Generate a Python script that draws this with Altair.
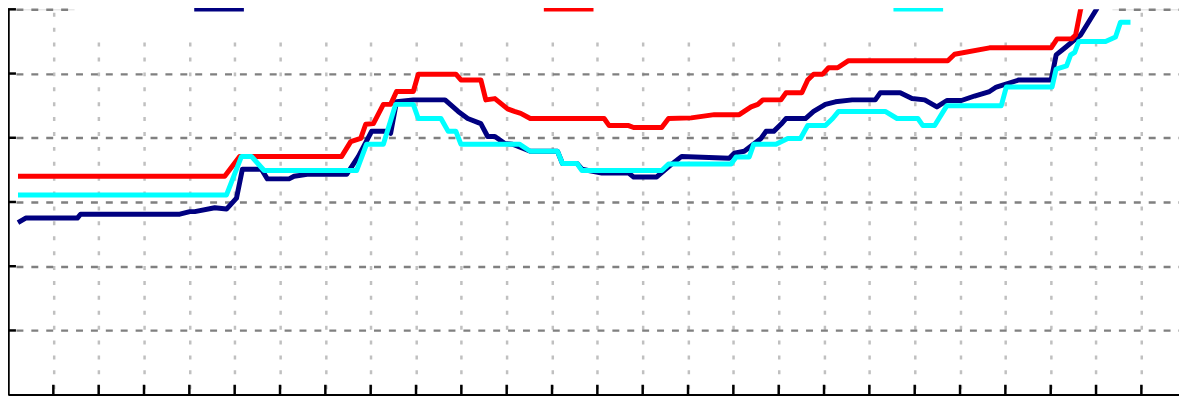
import altair as alt
import pandas as pd

series_names = ["Series 1", "Series 2", "Series 3"]
series_colors = ["#000080", "#ff0000", "#00ffff"]

navy_x = [0.22, 0.39, 1.53, 1.60, 3.79, 4.01, 4.12, 4.56, 4.82, 5.04, 5.17, 5.59, 5.72, 6.20, 6.31, 6.60,
          7.47, 7.73, 8.02, 8.39, 8.44, 8.57, 8.94, 9.64, 9.93, 10.14, 10.43, 10.58, 10.74, 10.96, 11.13,
          11.52, 12.12, 12.23, 12.55, 12.66, 13.10, 13.69, 13.80, 14.31, 14.64, 14.86, 15.91, 16.02, 16.24,
          16.61, 16.72, 16.89, 17.05, 17.16, 17.59, 17.77, 18.03, 18.25, 18.62, 19.13, 19.24, 19.68, 19.94,
          20.22, 20.49, 20.71, 21.03, 21.32, 21.65, 21.80, 22.30, 23.01, 23.12, 23.33, 23.55, 23.66, 24.01, 24.12]
navy_y = [2.68, 2.75, 2.75, 2.81, 2.81, 2.85, 2.85, 2.91, 2.89, 3.06, 3.51, 3.51, 3.36, 3.36, 3.40, 3.43,
          3.43, 3.71, 4.10, 4.10, 4.07, 4.56, 4.59, 4.59, 4.41, 4.30, 4.22, 4.02, 4.02, 3.91, 3.90,
          3.79, 3.79, 3.60, 3.60, 3.51, 3.45, 3.45, 3.39, 3.39, 3.59, 3.71, 3.68, 3.76, 3.79,
          3.99, 4.10, 4.10, 4.21, 4.30, 4.30, 4.41, 4.52, 4.56, 4.59, 4.59, 4.70, 4.70, 4.61,
          4.59, 4.48, 4.58, 4.58, 4.65, 4.72, 4.79, 4.90, 4.90, 5.29, 5.41, 5.54, 5.60, 6.00, 6.19]

red_x = [0.22, 4.78, 5.11, 7.36, 7.56, 7.78, 7.89, 8.06, 8.28, 8.44, 8.57, 8.94, 9.05, 9.88, 9.99, 10.43,
         10.54, 10.74, 11.02, 11.17, 11.31, 11.52, 13.15, 13.26, 13.69, 13.80, 14.42, 14.57, 15.07, 15.58,
         16.13, 16.39, 16.54, 16.65, 17.05, 17.16, 17.51, 17.64, 17.77, 17.97, 18.10, 18.30, 18.54, 20.73,
         20.88, 21.65, 23.01, 23.14, 23.46, 23.55, 23.66, 23.77]
red_y = [3.40, 3.40, 3.71, 3.71, 3.94, 3.99, 4.21, 4.22, 4.52, 4.52, 4.72, 4.72, 4.99, 4.99, 4.90, 4.90,
         4.59, 4.61, 4.45, 4.41, 4.38, 4.30, 4.30, 4.19, 4.19, 4.16, 4.16, 4.30, 4.31, 4.36,
         4.36, 4.48, 4.52, 4.59, 4.59, 4.70, 4.70, 4.90, 4.99, 4.99, 5.09, 5.09, 5.20, 5.20,
         5.30, 5.40, 5.40, 5.54, 5.54, 5.60, 6.00, 6.19]

cyan_x = [0.22, 4.82, 5.15, 5.37, 5.65, 7.69, 7.91, 8.28, 8.55, 8.94, 9.05, 9.55, 9.71, 9.88, 9.99, 11.28,
          11.52, 12.12, 12.23, 12.55, 12.66, 14.42, 14.57, 15.95, 16.06, 16.35, 16.45, 16.94, 17.20, 17.48,
          17.64, 18.03, 18.19, 18.32, 19.35, 19.61, 20.07, 20.18, 20.44, 20.71, 21.91, 22.02, 23.03, 23.12,
          23.35, 23.44, 23.53, 23.62, 24.21, 24.43, 24.54, 24.76]
cyan_y = [3.11, 3.11, 3.71, 3.71, 3.49, 3.49, 3.90, 3.90, 4.52, 4.52, 4.30, 4.30, 4.10, 4.10, 3.90, 3.90,
          3.79, 3.79, 3.60, 3.60, 3.49, 3.49, 3.59, 3.59, 3.70, 3.70, 3.90, 3.90, 3.99, 3.99,
          4.19, 4.19, 4.30, 4.41, 4.41, 4.30, 4.30, 4.19, 4.19, 4.50, 4.50, 4.79, 4.79, 5.07,
          5.12, 5.29, 5.33, 5.50, 5.50, 5.57, 5.80, 5.80]

x_ticks = list(range(1, 26))
y_ticks = [1, 2, 3, 4, 5, 6]

W = 1179
H = 388
X_MAX = 25.83
Y_MAX = 6

rows = []
for name, xs, ys in zip(series_names, [navy_x, red_x, cyan_x], [navy_y, red_y, cyan_y]):
    for i, (a, b) in enumerate(zip(xs, ys)):
        rows.append({"series": name, "x": a, "y": b, "i": i})
df = pd.DataFrame(rows)

xscale = alt.Scale(domain=[0, X_MAX], nice=False, zero=False)
yscale = alt.Scale(domain=[0, Y_MAX], nice=False, zero=False)

panel = alt.Chart(pd.DataFrame({"k": [0]})).mark_rect(color="white").encode(
    x=alt.value(67), x2=alt.value(1112), y=alt.value(-3), y2=alt.value(29)
)

lines = alt.Chart(df).mark_line(strokeWidth=5, clip=True, strokeJoin="round").encode(
    x=alt.X("x:Q", scale=xscale,
            axis=alt.Axis(values=x_ticks, labels=False, ticks=False, title=None,
                          grid=True, gridColor="#c0c0c0", gridDash=[4, 11], gridDashOffset=12,
                          gridWidth=2.5, domainColor="black", domainWidth=2.5)),
    y=alt.Y("y:Q", scale=yscale,
            axis=alt.Axis(values=y_ticks, labels=False, ticks=False, title=None,
                          grid=True, gridColor="#808080", gridDash=[7, 8], gridDashOffset=7,
                          gridWidth=2.5, domainColor="black", domainWidth=2.5)),
    color=alt.Color("series:N",
                    scale=alt.Scale(domain=series_names, range=series_colors),
                    legend=alt.Legend(orient="none", legendX=185, legendY=-28, direction="horizontal",
                                      title=None, symbolType="stroke", symbolSize=2500,
                                      symbolStrokeWidth=5, labelExpr="''", labelFontSize=11,
                                      columnPadding=281, padding=0)),
    order="i:Q",
)

xt = alt.Chart(pd.DataFrame({"t": x_ticks})).mark_rule(color="black", strokeWidth=2.5).encode(
    x=alt.X("t:Q", scale=xscale), y=alt.value(H - 10), y2=alt.value(H)
)
yt = alt.Chart(pd.DataFrame({"t": y_ticks})).mark_rule(color="black", strokeWidth=2.5).encode(
    y=alt.Y("t:Q", scale=yscale), x=alt.value(0), x2=alt.value(8)
)

chart = alt.layer(panel, lines, xt, yt).properties(
    width=W, height=H, padding=0,
    autosize=alt.AutoSizeParams(type="none"),
).configure_view(stroke=None).configure(background="white")

chart.save("out.html", embed_options={"renderer": "svg", "actions": False})
